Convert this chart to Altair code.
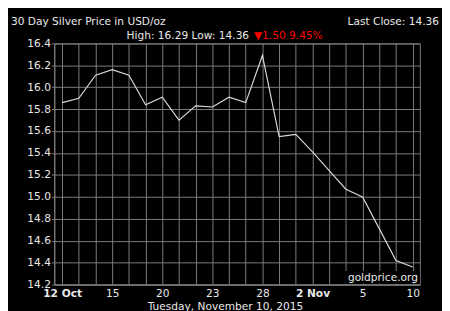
import altair as alt
import pandas as pd

# ---- data ----
day_labels = ["12 Oct", "13", "14", "15", "16", "19", "20", "21", "22", "23",
              "26", "27", "28", "29", "30", "2 Nov", "3", "4", "5", "6", "9", "10"]
shown_idx = [0, 3, 6, 9, 12, 15, 18, 21]
bold_idx = [0, 15]
prices = [15.86, 15.90, 16.11, 16.16, 16.11, 15.84, 15.91, 15.70, 15.83, 15.82,
          15.91, 15.86, 16.29, 15.55, 15.57, 15.41, 15.24, 15.07, 15.00, 14.71,
          14.42, 14.36]
y_ticks = [14.2, 14.4, 14.6, 14.8, 15.0, 15.2, 15.4, 15.6, 15.8, 16.0, 16.2, 16.4]

title_text = "30 Day Silver Price in USD/oz"
last_close_text = "Last Close: 14.36"
range_text = "High: 16.29 Low: 14.36"
change_text = "\u25bc1.50 9.45%"
date_text = "Tuesday, November 10, 2015"
watermark_text = "goldprice.org"

df = pd.DataFrame({"i": list(range(len(prices))), "day": day_labels, "price": prices})

label_arr = "[" + ",".join(
    "'" + (d if k in shown_idx else "") + "'" for k, d in enumerate(day_labels)) + "]"
bold_test = " || ".join(f"datum.value == {k}" for k in bold_idx)

W, H = 379, 250
FONT = "DejaVu Sans"
GRID = "#7f7f7f"
TXT = "#e8e8e8"
FS = 11

x_enc = alt.X(
    "i:Q",
    scale=alt.Scale(domain=[-0.47, 21.43], nice=False, zero=False),
    axis=alt.Axis(
        values=list(range(len(day_labels))),
        labelExpr=f"{label_arr}[datum.value]",
        grid=True, ticks=False, labelPadding=3,
        labelFlush=False, labelOverlap=False,
        labelFontWeight={"condition": {"test": bold_test, "value": "bold"}, "value": "normal"},
        title=None,
    ),
)
y_enc = alt.Y(
    "price:Q",
    scale=alt.Scale(domain=[14.2, 16.4], nice=False, zero=False),
    axis=alt.Axis(values=y_ticks, format=".1f", tickSize=3, labelPadding=1, title=None),
)

line = alt.Chart(df).mark_line(color="#dadada", strokeWidth=1.2).encode(x=x_enc, y=y_enc)


def text_layer(txt, x, y, align="left", color=TXT, size=FS):
    return alt.Chart(pd.DataFrame({"t": [txt]})).mark_text(
        align=align, baseline="alphabetic", font=FONT, fontSize=size, color=color
    ).encode(text="t:N", x=alt.value(x), y=alt.value(y))


wm_box = alt.Chart(pd.DataFrame({"t": [watermark_text]})).mark_rect(fill="#000").encode(
    x=alt.value(300), x2=alt.value(379), y=alt.value(236), y2=alt.value(249)
)

chart = alt.layer(
    line,
    wm_box,
    text_layer(watermark_text, 377, 246.5, align="right", size=11),
    text_layer(title_text, -45, -19.5),
    text_layer(last_close_text, 399, -19.5, align="right"),
    text_layer(range_text, 202, -5, align="right"),
    text_layer(change_text, 207, -5, align="left", color="#ff0000"),
    text_layer(date_text, 177.5, 276, align="center"),
).properties(
    width=W, height=H,
    autosize=alt.AutoSizeParams(type="none"),
    padding={"left": 48, "top": 31, "right": 23, "bottom": 30},
    background="#000",
    usermeta={"embedOptions": {"defaultStyle": "body{margin:0;background:#000;overflow:hidden}"}},
).configure_view(
    stroke=GRID, strokeWidth=1
).configure_axis(
    gridColor=GRID, domainColor=GRID, tickColor=GRID, gridWidth=1, domainWidth=1,
    labelColor=TXT, labelFont=FONT, labelFontSize=FS,
)

chart.save("out.html", embed_options={"renderer": "svg", "actions": False})
